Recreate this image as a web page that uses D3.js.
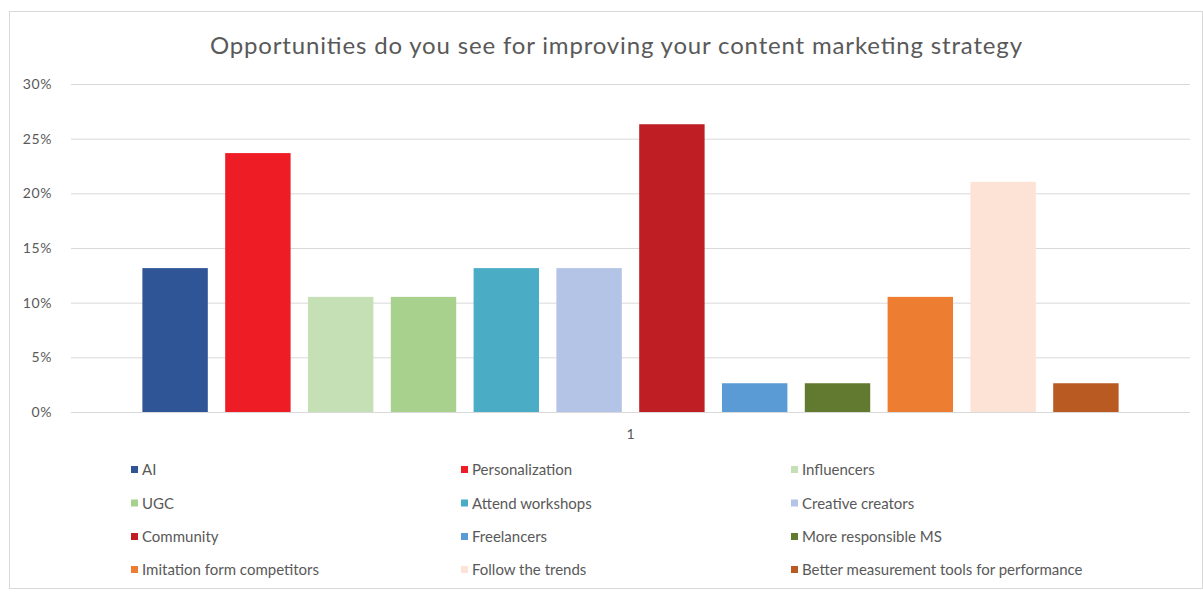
<!DOCTYPE html>
<html>
<head>
<meta charset="utf-8">
<script src="https://cdn.jsdelivr.net/npm/d3@7"></script>
<style>
  html, body { margin: 0; padding: 0; background: #fff; }
  svg { display: block; font-family: Lato, "Open Sans", sans-serif; }
</style>
</head>
<body>
<svg id="chart" width="1203" height="593"></svg>
<script>
// Survey answers, share of respondents (%)
const categories = ["1"];
const seriesNames = [
  "AI", "Personalization", "Influencers",
  "UGC", "Attend workshops", "Creative creators",
  "Community", "Freelancers", "More responsible MS",
  "Imitation form competitors", "Follow the trends", "Better measurement tools for performance"
];
const seriesValues = [13.16, 23.68, 10.53, 10.53, 13.16, 13.16, 26.32, 2.63, 2.63, 10.53, 21.05, 2.63];
const seriesColors = [
  "#2f5597", "#ee1c25", "#c5e0b4",
  "#a9d18e", "#4bacc6", "#b4c4e6",
  "#be1e24", "#5b9bd5", "#627a30",
  "#ed7d31", "#fde3d6", "#b85a22"
];
const yTicks = [0, 5, 10, 15, 20, 25, 30];
const titleText = "Opportunities do you see for improving your content marketing strategy";

const svg = d3.select("#chart");
const plot = { left: 71, right: 1190, top: 84, bottom: 412 };

// chart frame
svg.append("rect")
  .attr("x", 9.5).attr("y", 11.5)
  .attr("width", 1193).attr("height", 577)
  .attr("fill", "#fff").attr("stroke", "#d9d9d9");

// title
svg.append("text")
  .attr("x", 616).attr("y", 54)
  .attr("text-anchor", "middle")
  .attr("font-size", 24)
  .attr("textLength", 812).attr("lengthAdjust", "spacing")
  .attr("fill", "#595959")
  .text(titleText);

const y = d3.scaleLinear().domain([0, 30]).range([plot.bottom, plot.top]);
const x0 = d3.scaleBand().domain(categories).range([plot.left, plot.right])
  .paddingInner(0).paddingOuter(0.0631);
const x1 = d3.scaleBand().domain(seriesNames).range([0, x0.bandwidth()])
  .paddingInner(0.21).paddingOuter(0.105);

// gridlines + y labels
const yAxis = d3.axisLeft(y).tickValues(yTicks)
  .tickFormat(d => d + "%")
  .tickSize(-(plot.right - plot.left)).tickPadding(19);
const gy = svg.append("g").attr("transform", `translate(${plot.left},0)`).call(yAxis);
gy.select(".domain").remove();
gy.selectAll(".tick line").attr("stroke", "#d9d9d9").attr("stroke-width", 1);
gy.selectAll(".tick text").attr("fill", "#595959").attr("font-size", 14)
  .attr("letter-spacing", 0.6)
  .attr("font-family", "Lato, sans-serif");

// x category label
const xAxis = d3.axisBottom(x0).tickSize(0).tickPadding(17);
const gx = svg.append("g").attr("transform", `translate(0,${plot.bottom})`).call(xAxis);
gx.select(".domain").remove();
gx.selectAll(".tick text").attr("fill", "#595959").attr("font-size", 14)
  .attr("font-family", "Lato, sans-serif");

// bars
const rows = seriesNames.map((n, i) => ({ name: n, value: seriesValues[i], color: seriesColors[i], cat: categories[0] }));
svg.append("g").selectAll("rect").data(rows).join("rect")
  .attr("x", d => x0(d.cat) + x1(d.name))
  .attr("y", d => y(d.value))
  .attr("width", x1.bandwidth())
  .attr("height", d => y(0) - y(d.value))
  .attr("fill", d => d.color);

// legend: 3 columns x 4 rows
const legendCols = [131, 461, 791];
const legendRows = [470, 503.5, 537, 570];
const lg = svg.append("g").selectAll("g").data(rows).join("g")
  .attr("transform", (d, i) => `translate(${legendCols[i % 3]},${legendRows[Math.floor(i / 3)]})`);
lg.append("rect").attr("x", 0).attr("y", -4).attr("width", 7).attr("height", 7)
  .attr("fill", d => d.color);
lg.append("text").attr("x", 11).attr("y", 0).attr("dy", "0.35em")
  .attr("font-size", 15).attr("fill", "#595959")
  .text(d => d.name);
</script>
</body>
</html>
